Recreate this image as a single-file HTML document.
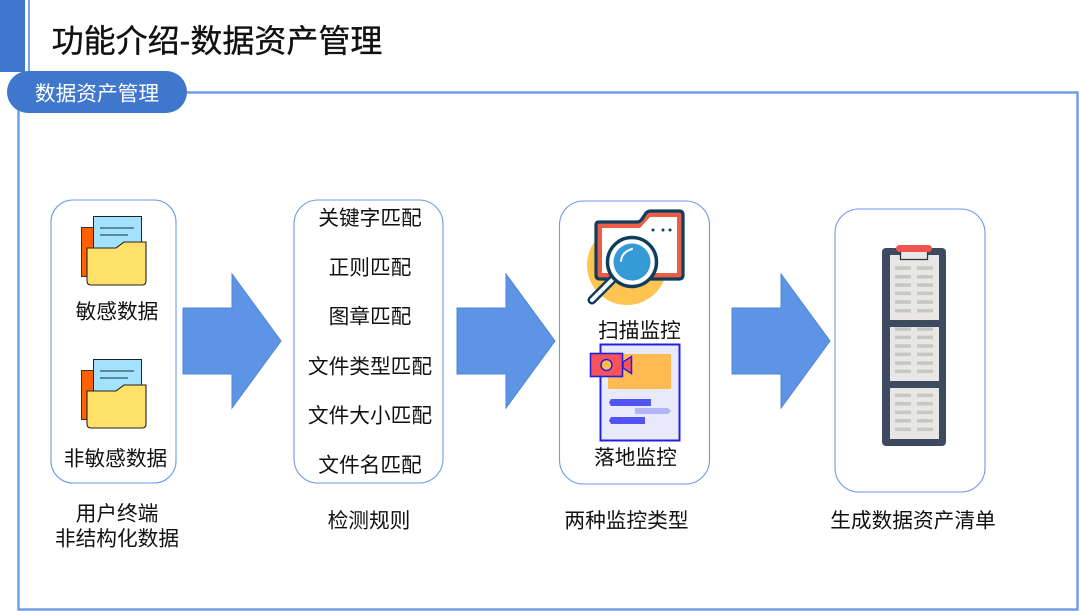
<!DOCTYPE html>
<html lang="zh">
<head>
<meta charset="utf-8">
<style>
html,body{margin:0;padding:0;background:#fff;width:1080px;height:611px;overflow:hidden}
svg{display:block}
text{font-family:"Liberation Sans","Noto Sans CJK SC",sans-serif;fill:#111;font-size:20.7px;text-anchor:middle}
</style>
</head>
<body>
<svg width="1080" height="611" viewBox="0 0 1080 611" xmlns="http://www.w3.org/2000/svg">
<defs>
<g id="folder">
<rect x="81.5" y="227.5" width="14" height="49" fill="#ff6100" stroke="#333" stroke-width="1"/>
<rect x="93.5" y="216.5" width="48" height="40" fill="#a3e3ff" stroke="#222" stroke-width="1"/>
<path d="M100 228H134M100 235H128" stroke="#36505c" stroke-width="1.2" fill="none"/>
<path d="M87 248H116L124 242H146V281Q146 285 142 285H91Q87 285 87 281Z" fill="#ffe169" stroke="#222" stroke-width="1.1"/>
</g>
<path id="arrow" d="M0 308H49V274L98 341L49 408V374H0Z" fill="#5e94e6" stroke="#4f85da" stroke-width="1"/>
</defs>

<rect x="0" y="0" width="25" height="72" fill="#3e77cc"/>
<rect x="28" y="0" width="2" height="72" fill="#7aa3ea"/>
<rect x="18.5" y="92.5" width="1059" height="517" fill="none" stroke="#6a9bea" stroke-width="2.4"/>
<rect x="7" y="71" width="180" height="42" rx="21" fill="#3e77cc"/>
<text x="97" y="100.500" style="fill:#fff">数据资产管理</text>
<text x="217" y="52" style="font-size:32px;stroke:#111;stroke-width:.35px">功能介绍-数据资产管理</text>

<rect x="51" y="200" width="125" height="283" rx="22" fill="#fff" stroke="#6a9bea" stroke-width="1.1"/>
<rect x="294" y="200" width="149" height="283" rx="24" fill="#fff" stroke="#6a9bea" stroke-width="1.1"/>
<rect x="559.500" y="201" width="150" height="283" rx="24" fill="#fff" stroke="#6a9bea" stroke-width="1.1"/>
<rect x="835" y="209" width="150" height="283" rx="24" fill="#fff" stroke="#6a9bea" stroke-width="1.1"/>

<use href="#arrow" x="183"/>
<use href="#arrow" x="457"/>
<use href="#arrow" x="732"/>

<use href="#folder"/>
<use href="#folder" y="143"/>
<text x="117" y="318.500">敏感数据</text>
<text x="115.500" y="465.500">非敏感数据</text>
<text x="117" y="520.500">用户终端</text>
<text x="117" y="545.500">非结构化数据</text>

<text x="370" y="225">关键字匹配</text>
<text x="370" y="274.500">正则匹配</text>
<text x="370" y="323.500">图章匹配</text>
<text x="370" y="373.500">文件类型匹配</text>
<text x="370" y="422.500">文件大小匹配</text>
<text x="370" y="472">文件名匹配</text>
<text x="369" y="527.500">检测规则</text>

<circle cx="627" cy="265" r="40" fill="#fdc550"/>
<path d="M599 222H637Q640 222 642 219L646 213Q648 211 651 211H679Q683 211 683 215V275Q683 279 679 279H600Q596 279 596 275V225Q596 222 599 222Z" fill="#ea5d47" stroke="#0f3d5c" stroke-width="3.200"/>
<path d="M602 228H640L650 217H677V273H602Z" fill="#fff"/>
<circle cx="653" cy="230" r="1.500" fill="#0f3d5c"/><circle cx="663" cy="230" r="1.500" fill="#0f3d5c"/><circle cx="670" cy="230" r="1.500" fill="#0f3d5c"/>
<path d="M592 300L612 280" stroke="#0f3d5c" stroke-width="9" stroke-linecap="round"/>
<path d="M592 300L612 280" stroke="#fff" stroke-width="4" stroke-linecap="round"/>
<circle cx="632" cy="262" r="24.500" fill="#fff" stroke="#0f3d5c" stroke-width="3.500"/>
<circle cx="632" cy="262" r="18.500" fill="#359bd6"/>
<path d="M621 261Q622 252 632 249" stroke="#fff" stroke-width="2" fill="none" stroke-linecap="round"/>
<text x="639.500" y="337.500">扫描监控</text>

<rect x="600.500" y="344.500" width="79" height="96" fill="#e9e9fc" stroke="#2222dd" stroke-width="2"/>
<rect x="608" y="354" width="63" height="35" rx="1" fill="#ffbb52"/>
<rect x="590.500" y="353.500" width="32" height="23" fill="#f9525a" stroke="#2222dd" stroke-width="1.6"/>
<circle cx="606.500" cy="365" r="5.500" fill="#ffbb52" stroke="#2222dd" stroke-width="1.500"/>
<path d="M623 362L631.500 356.500V373.500L623 368Z" fill="#f9525a" stroke="#2222dd" stroke-width="1.500"/>
<path d="M609 402.500L611 399H651V406H611Z" fill="#5353f5"/>
<path d="M635 408H668L671 411L668 414H635Z" fill="#b4b4fb"/>
<path d="M609 420.500L611 417H645V424H611Z" fill="#5353f5"/>
<text x="635.500" y="464.500">落地监控</text>
<text x="626.500" y="527.500">两种监控类型</text>

<rect x="882" y="248" width="64" height="198" rx="4" fill="#3d4a5f"/>
<rect x="890" y="255" width="49" height="65" fill="#e8e7e5"/>
<rect x="890" y="327" width="49" height="54" fill="#e8e7e5"/>
<rect x="890" y="388" width="49" height="51" fill="#e8e7e5"/>
<path d="M900.500 250V259.500H927.500V250" fill="#e8e7e5" stroke="#2b3648" stroke-width="1.300"/>
<rect x="896" y="245" width="36" height="7" rx="3.500" fill="#ef5350"/>
<g fill="#c6c6c3">
<rect x="895" y="266.300" width="16" height="3.500"/><rect x="917" y="266.300" width="16" height="3.500"/>
<rect x="895" y="275" width="16" height="3.500"/><rect x="917" y="275" width="16" height="3.500"/>
<rect x="895" y="283.300" width="16" height="3.500"/><rect x="917" y="283.300" width="16" height="3.500"/>
<rect x="895" y="291.600" width="16" height="3.500"/><rect x="917" y="291.600" width="16" height="3.500"/>
<rect x="895" y="300.300" width="16" height="3.500"/><rect x="917" y="300.300" width="16" height="3.500"/>
<rect x="895" y="309" width="16" height="3.500"/><rect x="917" y="309" width="16" height="3.500"/>
<rect x="895" y="327.300" width="16" height="3.500"/><rect x="917" y="327.300" width="16" height="3.500"/>
<rect x="895" y="335.600" width="16" height="3.500"/><rect x="917" y="335.600" width="16" height="3.500"/>
<rect x="895" y="344.300" width="16" height="3.500"/><rect x="917" y="344.300" width="16" height="3.500"/>
<rect x="895" y="352.600" width="16" height="3.500"/><rect x="917" y="352.600" width="16" height="3.500"/>
<rect x="895" y="361.300" width="16" height="3.500"/><rect x="917" y="361.300" width="16" height="3.500"/>
<rect x="895" y="369.600" width="16" height="3.500"/><rect x="917" y="369.600" width="16" height="3.500"/>
<rect x="895" y="393.600" width="16" height="3.500"/><rect x="917" y="393.600" width="16" height="3.500"/>
<rect x="895" y="402" width="16" height="3.500"/><rect x="917" y="402" width="16" height="3.500"/>
<rect x="895" y="410.600" width="16" height="3.500"/><rect x="917" y="410.600" width="16" height="3.500"/>
<rect x="895" y="419" width="16" height="3.500"/><rect x="917" y="419" width="16" height="3.500"/>
<rect x="895" y="427.600" width="16" height="3.500"/><rect x="917" y="427.600" width="16" height="3.500"/>
</g>
<text x="913" y="527.500">生成数据资产清单</text>
</svg>
</body>
</html>
